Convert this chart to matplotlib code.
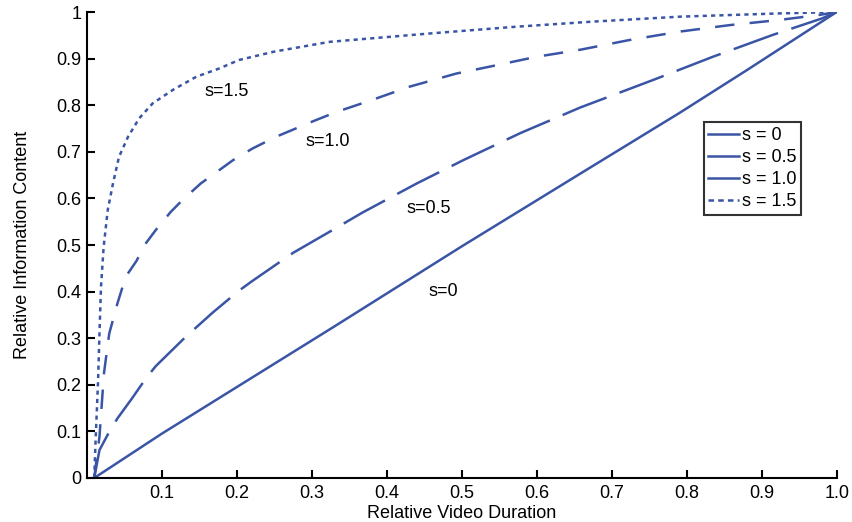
import matplotlib
matplotlib.use("Agg")
import matplotlib.pyplot as plt
from matplotlib.lines import Line2D

plt.rcParams['font.family'] = ['Liberation Sans', 'DejaVu Sans']
plt.rcParams['lines.scale_dashes'] = False

# information content vs. video duration for several s values
x_s0 = [0.01, 0.1, 0.2, 0.33, 0.5, 0.66, 0.79, 0.88, 1.0]
y_s0 = [0.0, 0.095, 0.195, 0.325, 0.497, 0.655, 0.783, 0.875, 1.0]

x_s05 = [0.01, 0.017, 0.03, 0.041, 0.06, 0.079, 0.092, 0.132, 0.168, 0.203,
         0.221, 0.275, 0.332, 0.367, 0.44, 0.502, 0.578, 0.658, 0.755, 0.835,
         0.915, 0.98, 1.0]
y_s05 = [0.0, 0.06, 0.099, 0.128, 0.17, 0.214, 0.24, 0.303, 0.355, 0.402,
         0.423, 0.483, 0.536, 0.569, 0.632, 0.682, 0.74, 0.795, 0.854, 0.904,
         0.951, 0.986, 1.0]

x_s10 = [0.01, 0.017, 0.023, 0.03, 0.041, 0.052, 0.066, 0.079, 0.092, 0.112,
         0.128, 0.152, 0.177, 0.195, 0.221, 0.252, 0.301, 0.332, 0.38, 0.431,
         0.493, 0.547, 0.6, 0.658, 0.724, 0.791, 0.858, 0.924, 0.978, 1.0]
y_s10 = [0.0, 0.089, 0.225, 0.31, 0.375, 0.432, 0.465, 0.504, 0.532, 0.571,
         0.597, 0.632, 0.661, 0.682, 0.707, 0.732, 0.765, 0.785, 0.811, 0.84,
         0.868, 0.886, 0.904, 0.919, 0.94, 0.958, 0.972, 0.983, 0.994, 1.0]

x_s15 = [0.01, 0.012, 0.015, 0.017, 0.019, 0.0225, 0.028, 0.035, 0.043, 0.055,
         0.07, 0.088, 0.115, 0.146, 0.177, 0.203, 0.25, 0.324, 0.458, 0.569,
         0.671, 0.791, 0.924, 1.0]
y_s15 = [0.0, 0.089, 0.203, 0.31, 0.41, 0.495, 0.575, 0.632, 0.689, 0.732,
         0.772, 0.804, 0.833, 0.861, 0.879, 0.897, 0.915, 0.936, 0.954, 0.968,
         0.979, 0.99, 0.997, 1.0]

legend_labels = ['s = 0', 's = 0.5', 's = 1.0', 's = 1.5']
curve_labels = ['s=0', 's=0.5', 's=1.0', 's=1.5']
label_pos = [(0.475, 0.40), (0.456, 0.579), (0.322, 0.722), (0.186, 0.83)]

xticks = [0.1, 0.2, 0.3, 0.4, 0.5, 0.6, 0.7, 0.8, 0.9, 1.0]
yticks = [0, 0.1, 0.2, 0.3, 0.4, 0.5, 0.6, 0.7, 0.8, 0.9, 1]
ytick_labels = ['0', '0.1', '0.2', '0.3', '0.4', '0.5', '0.6', '0.7', '0.8', '0.9', '1']

blue = '#3a55a6'
fs = 13

fig = plt.figure(figsize=(8.52, 5.22), dpi=100)
ax = fig.add_axes([0.1018, 0.0843, 0.8802, 0.8927])

ax.plot(x_s0, y_s0, color=blue, lw=1.8, solid_capstyle='butt')
ax.plot(x_s05, y_s05, color=blue, lw=1.8, dashes=(34, 10), dash_capstyle='butt')
ax.plot(x_s10, y_s10, color=blue, lw=1.8, dashes=(14, 11), dash_capstyle='butt')
ax.plot(x_s15, y_s15, color=blue, lw=1.8, dashes=(3, 3), dash_capstyle='butt')

for txt, (tx, ty) in zip(curve_labels, label_pos):
    ax.text(tx, ty, txt, fontsize=fs, ha='center', va='center')

ax.set_xlim(0, 1)
ax.set_ylim(0, 1)
ax.set_xticks(xticks)
ax.set_xticklabels(['%.1f' % v for v in xticks])
ax.set_yticks(yticks)
ax.set_yticklabels(ytick_labels)
ax.tick_params(direction='in', length=6, width=1.5, labelsize=fs, pad=4)
ax.tick_params(axis='x', pad=5)

for side in ['top', 'right']:
    ax.spines[side].set_visible(False)
for side in ['left', 'bottom']:
    ax.spines[side].set_linewidth(1.5)

ax.set_xlabel('Relative Video Duration', fontsize=fs, labelpad=2)
ax.set_ylabel('Relative Information Content', fontsize=fs, labelpad=18)

# legend: first three entries show solid swatches, the last a dashed one
handles = [Line2D([], [], color=blue, lw=1.8),
           Line2D([], [], color=blue, lw=1.8),
           Line2D([], [], color=blue, lw=1.8),
           Line2D([], [], color=blue, lw=1.8, dashes=(4, 3))]
leg = ax.legend(handles, legend_labels, loc='upper left',
                bbox_to_anchor=(0.823, 0.763), borderaxespad=0,
                fontsize=fs, frameon=True, fancybox=False,
                handlelength=1.7, handletextpad=0.15, labelspacing=0.28,
                borderpad=0.25)
leg.get_frame().set_edgecolor('black')
leg.get_frame().set_linewidth(1.5)

fig.savefig('out.png', dpi=100)
